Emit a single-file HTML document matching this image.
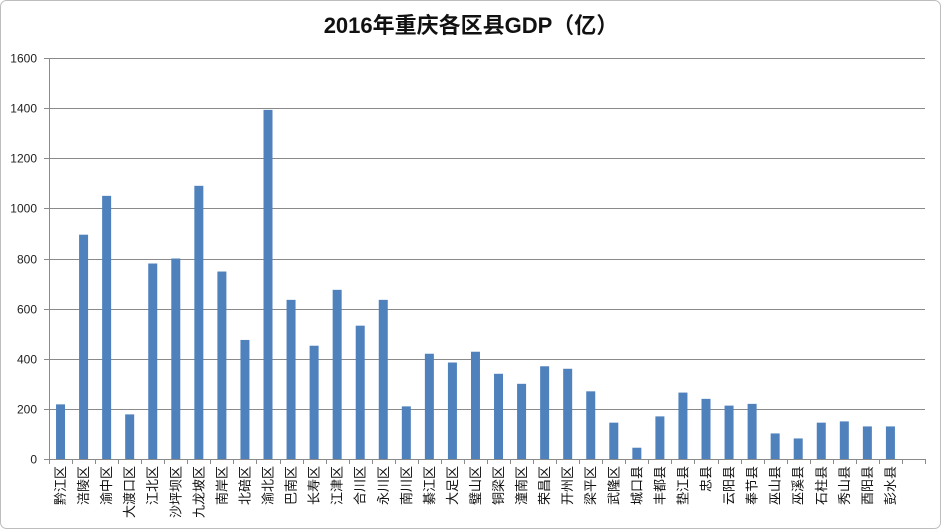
<!DOCTYPE html>
<html><head><meta charset="utf-8">
<style>
html,body{margin:0;padding:0;background:#fff;}
svg{display:block;font-family:"Liberation Sans","Noto Sans CJK SC",sans-serif;}
</style></head>
<body>
<svg id="chart" width="942" height="530" viewBox="0 0 942 530">
  <rect x="0.5" y="0.5" width="940" height="528" rx="6" fill="#fff" stroke="#bdbdbd"/>
  <text x="471" y="33" text-anchor="middle" font-size="22" font-weight="bold" font-family="'Liberation Sans','Noto Sans CJK SC',sans-serif" fill="#111">2016年重庆各区县GDP（亿）</text>
  <g id="grid"></g>
  <g id="bars"></g>
  <g id="xlabels"></g>
</svg>
<script>
const categories=["黔江区","涪陵区","渝中区","大渡口区","江北区","沙坪坝区","九龙坡区","南岸区","北碚区","渝北区","巴南区","长寿区","江津区","合川区","永川区","南川区","綦江区","大足区","璧山区","铜梁区","潼南区","荣昌区","开州区","梁平区","武隆区","城口县","丰都县","垫江县","忠县","云阳县","奉节县","巫山县","巫溪县","石柱县","秀山县","酉阳县","彭水县"];
const gdpValues=[218,895,1050,178,780,800,1090,748,475,1393,635,452,675,532,635,210,420,385,428,340,300,370,360,270,145,45,170,265,240,213,220,102,82,145,150,130,130];
const yTicks=[0,200,400,600,800,1000,1200,1400,1600];

const NS="http://www.w3.org/2000/svg";
const x0=49,x1=925,y0=459,yTop=58,yMax=1600,slots=38;
const slotW=(x1-x0)/slots;
function yScale(v){return y0-(v/yMax)*(y0-yTop);}
function xCenter(i){return x0+slotW*(i+0.5);}
function mk(tag,attrs,parent){const e=document.createElementNS(NS,tag);for(const k in attrs)e.setAttribute(k,attrs[k]);parent.appendChild(e);return e;}

const grid=document.getElementById('grid');
yTicks.forEach(t=>{
  const y=Math.round(yScale(t))+0.5;
  const l=mk('line',{x1:44,x2:x1,y1:y,y2:y,stroke:'#8a8a8a','stroke-width':1},grid);
  
  
  const tx=mk('text',{x:37,y:y+4,'text-anchor':'end','font-size':12,fill:'#222'},grid);
  tx.textContent=t;
  
  
});
const ax=mk('line',{x1:x0+0.5,x2:x0+0.5,y1:yTop,y2:y0+0.5,stroke:'#8a8a8a'},grid);


for(let i=0;i<=slots;i++){
  const x=Math.round(x0+slotW*i)+0.5;
  const tk=mk('line',{x1:x,x2:x,y1:y0,y2:y0+5,stroke:'#8a8a8a'},grid);
  
  
}

const bars=document.getElementById('bars');
const xl=document.getElementById('xlabels');
const bw=9;
gdpValues.forEach((v,i)=>{
  const cx=xCenter(i);
  const r=mk('rect',{x:cx-bw/2,y:yScale(v),width:bw,height:y0-yScale(v),fill:'#4f81bd'},bars);
  
  
});
categories.forEach((c,i)=>{
  const cx=xCenter(i);
  const t=mk('text',{x:0,y:0,'text-anchor':'end','font-size':13,fill:'#111',transform:'translate('+(cx+4.5)+','+466+') rotate(-90)'},xl);
  t.textContent=c;
  
  
});
</script>
</body></html>
